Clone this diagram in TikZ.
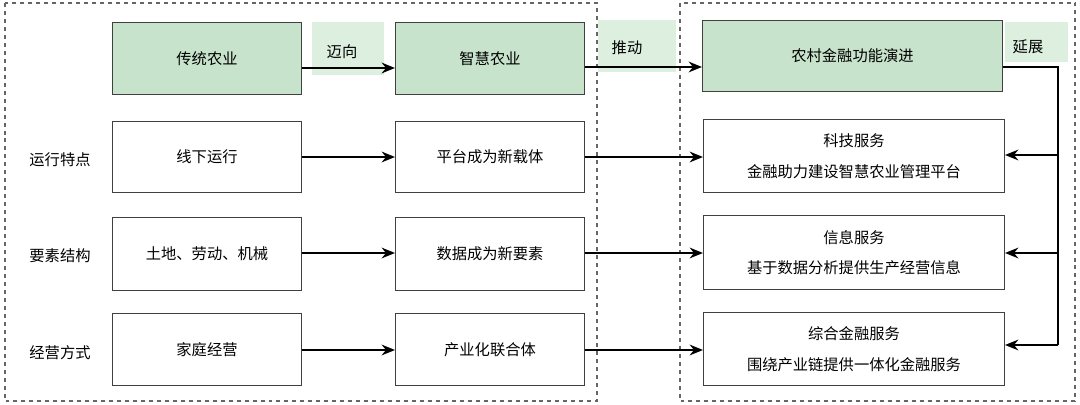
\documentclass[tikz,border=0pt]{standalone}
\usepackage{fontspec}
\setmainfont{Noto Sans CJK SC}
\usetikzlibrary{arrows.meta}
\definecolor{gfill}{HTML}{C8E3CB}
\definecolor{lfill}{HTML}{DDEFDE}
\begin{document}
\begin{tikzpicture}[x=0.0264583cm,y=-0.0264583cm,
 arr/.style={-{Stealth[length=10pt,width=8pt]},line width=1.8pt},
 dsh/.style={draw=black!60,dashed,line width=1pt},
 lbl/.style={font=\fontsize{11.5pt}{14pt}\selectfont}]
\useasboundingbox (0,0) rectangle (1080,405);
\draw[dsh] (5,3) rectangle (597,401);
\draw[dsh] (680,3) rectangle (1075,401);
\fill[lfill] (312,22) rectangle (384,75);
\fill[lfill] (598,20) rectangle (676,72);
\fill[lfill] (1005,22) rectangle (1068,62);
\node[lbl] (t1) at (342,52) {迈向};
\node[lbl] (t2) at (627,48) {推动};
\node[lbl] (t3) at (1028,47) {延展};
\def\bx#1#2#3#4#5#6#7{\node[draw=black!75,line width=0.6pt,fill=#7,minimum width=#3*0.0264583cm-0.6pt,minimum height=#4*0.0264583cm-0.6pt,align=center,font=\fontsize{11.5pt}{23pt}\selectfont,inner sep=0pt] (#5) at (#1,#2) {#6};}
\bx{207}{58.5}{190}{73}{a0}{传统农业}{gfill}
\bx{490}{58.5}{190}{73}{b0}{智慧农业}{gfill}
\bx{852.5}{56}{301}{72}{c0}{农村金融功能演进}{gfill}
\bx{207}{157}{190}{72}{a1}{线下运行}{white}
\bx{490}{157}{190}{72}{b1}{平台成为新载体}{white}
\bx{854}{156}{302}{74}{c1}{科技服务\\金融助力建设智慧农业管理平台}{white}
\bx{207}{254}{190}{74}{a2}{土地、劳动、机械}{white}
\bx{490}{254}{190}{74}{b2}{数据成为新要素}{white}
\bx{854}{252.5}{302}{75}{c2}{信息服务\\基于数据分析提供生产经营信息}{white}
\bx{207}{349.5}{190}{73}{a3}{家庭经营}{white}
\bx{490}{349.5}{190}{73}{b3}{产业化联合体}{white}
\bx{854}{349}{302}{74}{c3}{综合金融服务\\围绕产业链提供一体化金融服务}{white}
\node[lbl] (r1) at (60,160) {运行特点};
\node[lbl] (r2) at (60,256) {要素结构};
\node[lbl] (r3) at (60,353) {经营方式};
\draw[arr] (a0.east |- 0,68) -- (b0.west |- 0,68);
\draw[arr] (b0.east |- 0,67) -- (c0.west |- 0,67);
\foreach \i/\y in {1/157,2/253,3/350}{
 \draw[arr] (a\i.east |- 0,\y) -- (b\i.west |- 0,\y);
 \draw[arr] (b\i.east |- 0,\y) -- (c\i.west |- 0,\y);}
\coordinate (k) at (1058,67);
\coordinate (kb) at (1058,345);
\draw[line width=1.8pt] (c0.east |- k) -- (k) -- (kb);
\draw[arr] (1058,155) -- (c1.east |- 0,155);
\draw[arr] (1058,253) -- (c2.east |- 0,253);
\draw[arr] (kb) -- (c3.east |- kb);
\end{tikzpicture}
\end{document}
